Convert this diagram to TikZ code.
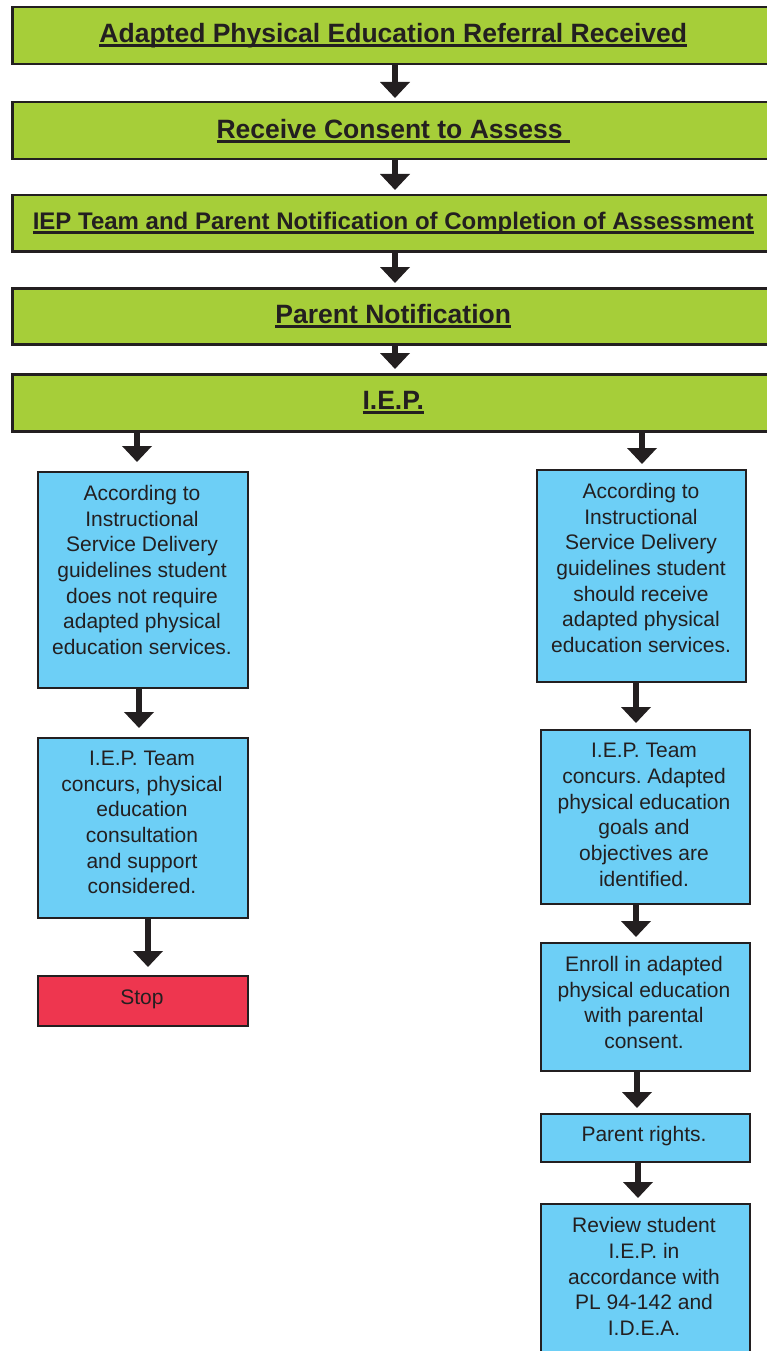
\documentclass[tikz,border=0pt]{standalone}
\usepackage{fontspec}
\setmainfont{Liberation Sans}
\usetikzlibrary{arrows.meta}
\definecolor{gfill}{HTML}{A6CE39}
\definecolor{bfill}{HTML}{6DCFF6}
\definecolor{rfill}{HTML}{EE364F}
\definecolor{ink}{HTML}{231F20}
\frenchspacing
\newcommand\thickul[1]{\setbox0=\hbox{#1}\rlap{\vrule height -1.5pt depth 4.5pt width \wd0}\box0}
\begin{document}
\begin{tikzpicture}[x=1pt,y=-1pt,
  greenbox/.style={draw=ink, line width=2.5pt, fill=gfill, minimum width=762pt, minimum height=57pt, inner sep=0pt, anchor=north west, text=ink, font=\fontsize{26.5pt}{30pt}\selectfont\bfseries},
  bluebox/.style={draw=ink, line width=2.3pt, fill=bfill, inner sep=0pt, anchor=north west},
  redbox/.style={draw=ink, line width=2.3pt, fill=rfill, inner sep=0pt, anchor=north west},
  bodytext/.style={text=ink, align=center, inner sep=0pt, font=\fontsize{21pt}{25.7pt}\selectfont},
  arr/.style={draw=ink, line width=5.5pt, -{Triangle[width=29pt,length=16pt]}}]
\useasboundingbox (0,0) rectangle (767,1351);
% green boxes
\node[greenbox] (t1) at (11,6) {\thickul{Adapted Physical Education Referral Received}};
\node[greenbox] (t2) at (11,101) {\thickul{Receive Consent to Assess }};
\node[greenbox, minimum height=56pt, font=\fontsize{24pt}{28pt}\selectfont\bfseries] (t3) at (11,194) {\thickul{IEP Team and Parent Notification of Completion of Assessment}};
\node[greenbox, minimum height=56pt] (t4) at (11,287) {\thickul{Parent Notification}};
\node[greenbox] (t5) at (11,373) {\thickul{I.E.P.}};
% left column
\node[bluebox, minimum width=210pt, minimum height=216pt] (la) at (37,471) {};
\node[bodytext] (lat) at (142,570) {According to\\Instructional\\Service Delivery\\guidelines student\\does not require\\adapted physical\\education services.};
\node[bluebox, minimum width=210pt, minimum height=180pt] (lb) at (37,737) {};
\node[bodytext] (lbt) at (142,822.5) {I.E.P. Team\\concurs, physical\\education\\consultation\\and support\\considered.};
\node[redbox, minimum width=210pt, minimum height=50pt] (stop) at (37,975) {};
\node[bodytext] (stopt) at (142,999) {Stop};
% right column
\node[bluebox, minimum width=209pt, minimum height=212pt] (ra) at (536,469) {};
\node[bodytext] (rat) at (641,568) {According to\\Instructional\\Service Delivery\\guidelines student\\should receive\\adapted physical\\education services.};
\node[bluebox, minimum width=209pt, minimum height=174pt] (rb) at (540,729) {};
\node[bodytext] (rbt) at (644,815) {I.E.P. Team\\concurs. Adapted\\physical education\\goals and\\objectives are\\identified.};
\node[bluebox, minimum width=209pt, minimum height=128pt] (rc) at (540,942) {};
\node[bodytext] (rct) at (644,1002.5) {Enroll in adapted\\physical education\\with parental\\consent.};
\node[bluebox, minimum width=209pt, minimum height=48pt] (rd) at (540,1113) {};
\node[bodytext] (rdt) at (644,1136) {Parent rights.};
\node[bluebox, minimum width=209pt, minimum height=170pt] (re) at (540,1203) {};
\node[bodytext] (ret) at (644,1276.5) {Review student\\I.E.P. in\\accordance with\\PL 94-142 and\\I.D.E.A.};
% arrows
\draw[arr, shorten >=3pt] (395,0 |- t1.south) -- (395,0 |- t2.north);
\draw[arr, shorten >=4pt] (395,0 |- t2.south) -- (395,0 |- t3.north);
\draw[arr, shorten >=4pt] (395,0 |- t3.south) -- (395,0 |- t4.north);
\draw[arr, shorten >=4pt] (395,0 |- t4.south) -- (395,0 |- t5.north);
\draw[arr, shorten >=9pt] (137,0 |- t5.south) -- (137,0 |- la.north);
\draw[arr, shorten >=5pt] (642,0 |- t5.south) -- (642,0 |- ra.north);
\draw[arr, shorten >=9pt] (139,0 |- la.south) -- (139,0 |- lb.north);
\draw[arr, shorten >=8pt] (148,0 |- lb.south) -- (148,0 |- stop.north);
\draw[arr, shorten >=6pt] (636,0 |- ra.south) -- (636,0 |- rb.north);
\draw[arr, shorten >=5pt] (636,0 |- rb.south) -- (636,0 |- rc.north);
\draw[arr, shorten >=5pt] (637,0 |- rc.south) -- (637,0 |- rd.north);
\draw[arr, shorten >=5pt] (638,0 |- rd.south) -- (638,0 |- re.north);
\end{tikzpicture}
\end{document}
